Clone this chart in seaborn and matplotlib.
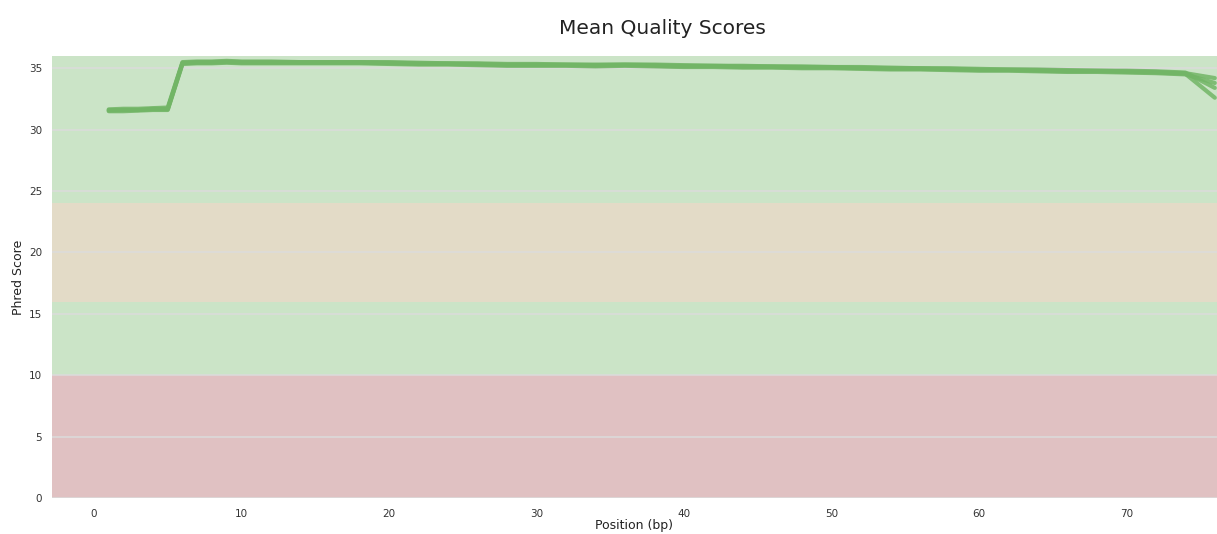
import numpy as np
import pandas as pd
import matplotlib
matplotlib.use("Agg")
import matplotlib.pyplot as plt
import seaborn as sns

# Read positions (bp): single bases 1-9, then paired bins, last base alone
positions = [1, 2, 3, 4, 5, 6, 7, 8, 9,
             10, 12, 14, 16, 18, 20, 22, 24, 26, 28, 30, 32, 34, 36, 38, 40,
             42, 44, 46, 48, 50, 52, 54, 56, 58, 60, 62, 64, 66, 68, 70, 72, 74,
             76]

sample_a = [31.6, 31.6, 31.6, 31.7, 31.7, 35.45, 35.5, 35.5, 35.55,
            35.5, 35.5, 35.5, 35.5, 35.5, 35.45, 35.4, 35.4, 35.35, 35.3, 35.3, 35.3, 35.25, 35.3, 35.25, 35.2,
            35.2, 35.15, 35.15, 35.1, 35.1, 35.05, 35.0, 35.0, 34.95, 34.9, 34.9, 34.85, 34.8, 34.8, 34.75, 34.7, 34.6,
            34.2]
sample_b = [31.5, 31.5, 31.55, 31.6, 31.6, 35.35, 35.4, 35.4, 35.45,
            35.4, 35.4, 35.4, 35.4, 35.4, 35.35, 35.3, 35.3, 35.25, 35.2, 35.2, 35.2, 35.15, 35.2, 35.15, 35.1,
            35.1, 35.05, 35.05, 35.0, 35.0, 34.95, 34.9, 34.9, 34.85, 34.8, 34.8, 34.75, 34.7, 34.7, 34.65, 34.6, 34.5,
            33.8]
sample_c = [31.65, 31.7, 31.7, 31.75, 31.8, 35.5, 35.55, 35.55, 35.6,
            35.55, 35.55, 35.5, 35.5, 35.5, 35.5, 35.45, 35.4, 35.4, 35.35, 35.35, 35.3, 35.3, 35.3, 35.3, 35.25,
            35.2, 35.2, 35.15, 35.15, 35.1, 35.1, 35.05, 35.0, 35.0, 34.95, 34.9, 34.9, 34.85, 34.8, 34.8, 34.75, 34.65,
            33.4]
sample_d = [31.55, 31.6, 31.6, 31.65, 31.65, 35.4, 35.45, 35.45, 35.5,
            35.45, 35.45, 35.45, 35.45, 35.45, 35.4, 35.35, 35.35, 35.3, 35.25, 35.25, 35.25, 35.2, 35.25, 35.2, 35.15,
            35.15, 35.1, 35.1, 35.05, 35.05, 35.0, 34.95, 34.95, 34.9, 34.85, 34.85, 34.8, 34.75, 34.75, 34.7, 34.65, 34.55,
            32.6]

sample_names = ["sample_1", "sample_2", "sample_3", "sample_4"]
sample_values = [sample_a, sample_b, sample_c, sample_d]

# Phred quality zones: (lower, upper, colour)
zone_bounds = [(0, 10), (10, 16), (16, 24), (24, 36)]
zone_colors = ["#e0c1c2", "#cbe4c7", "#e3dbc7", "#cbe4c7"]

x_ticks = [0, 10, 20, 30, 40, 50, 60, 70]
y_ticks = [0, 5, 10, 15, 20, 25, 30, 35]

df = pd.concat(
    [pd.DataFrame({"Position (bp)": positions, "Phred Score": vals, "sample": name})
     for name, vals in zip(sample_names, sample_values)],
    ignore_index=True,
)

sns.set_theme(style="white")
plt.rcParams["font.family"] = ["DejaVu Sans"]

fig = plt.figure(figsize=(12.17, 5.34), dpi=100)
ax = fig.add_axes([0.0427, 0.0674, 0.9573, 0.8278])

for (lo, hi), col in zip(zone_bounds, zone_colors):
    ax.axhspan(lo, hi, color=col, lw=0, zorder=1)

sns.lineplot(
    data=df, x="Position (bp)", y="Phred Score", hue="sample",
    palette=["#72b566"] * len(sample_names), linewidth=3.0, alpha=0.85,
    legend=False, ax=ax, zorder=3,
)

ax.set_xlim(-2.85, 76.15)
ax.set_ylim(0, 36)
ax.set_xticks(x_ticks)
ax.set_yticks(y_ticks)
ax.set_axisbelow("line")
ax.grid(axis="y", color="#dcdcdc", linewidth=1.2, alpha=0.9)
ax.grid(axis="x", visible=False)
for sp in ax.spines.values():
    sp.set_visible(False)
ax.tick_params(axis="both", length=0, labelsize=7.5, labelcolor="#333333")
ax.tick_params(axis="x", pad=8)
ax.tick_params(axis="y", pad=7)

ax.set_xlabel("Position (bp)", fontsize=9, color="#222222", labelpad=0)
ax.set_ylabel("Phred Score", fontsize=9, color="#222222", labelpad=3)
fig.text(0.544, 0.947, "Mean Quality Scores", ha="center", va="center",
         fontsize=14.5, color="#222222")

fig.savefig("out.png", dpi=100)
